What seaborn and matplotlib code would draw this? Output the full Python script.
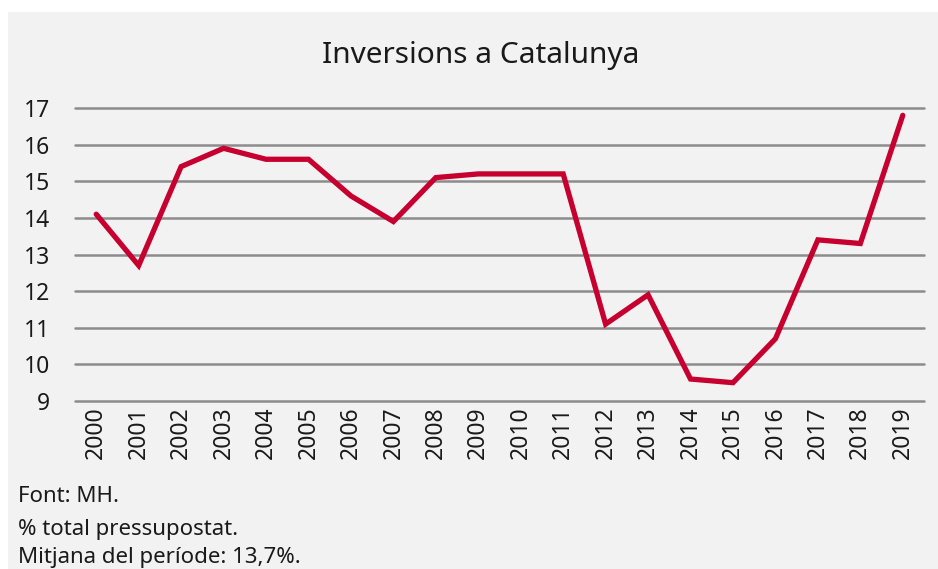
import matplotlib
matplotlib.use("Agg")
import matplotlib.pyplot as plt
import seaborn as sns
import pandas as pd
from matplotlib.patches import Rectangle

years = [str(y) for y in range(2000, 2020)]
inversions = [14.1, 12.7, 15.4, 15.9, 15.6, 15.6, 14.6, 13.9, 15.1, 15.2,
              15.2, 15.2, 11.1, 11.9, 9.6, 9.5, 10.7, 13.4, 13.3, 16.8]
y_ticks = [9, 10, 11, 12, 13, 14, 15, 16, 17]
notes = ["Font: MH.", "% total pressupostat.", "Mitjana del període: 13,7%."]

df = pd.DataFrame({"any": years, "valor": inversions})

sns.set_theme(style="white")
plt.rcParams["font.family"] = ["Noto Sans", "DejaVu Sans"]

fig = plt.figure(figsize=(9.38, 5.69), dpi=100, facecolor="white")
# gray panel behind everything
fig.patches.append(Rectangle((8 / 938, 0), 1, 1 - 12 / 569, transform=fig.transFigure,
                             facecolor="#f2f2f2", edgecolor="none", zorder=-10))

ax = fig.add_axes([75 / 938, 1 - 401 / 569, (924 - 75) / 938, (401 - 108) / 569])
ax.set_facecolor("none")

sns.lineplot(data=df, x="any", y="valor", color="#c6002f", linewidth=3.8,
             ax=ax, sort=False, clip_on=False, solid_joinstyle="miter")

ax.set_ylim(9, 17)
ax.set_xlim(-0.5, len(years) - 0.5)
ax.set_yticks(y_ticks)
ax.yaxis.grid(True, color="#8c8c8c", linewidth=1.8)
for gl in ax.get_ygridlines():
    gl.set_clip_on(False)
ax.set_axisbelow(True)
for s in ax.spines.values():
    s.set_visible(False)
ax.tick_params(axis="y", length=0, pad=18, labelsize=16.5, labelcolor="#1a1a1a")
ax.tick_params(axis="x", length=0, pad=4, labelsize=16.5, labelcolor="#1a1a1a",
               labelrotation=90)
ax.set_xlabel("")
ax.set_ylabel("")

fig.text(481 / 938, 1 - 55 / 569, "Inversions a Catalunya", ha="center", va="center",
         fontsize=21.5, color="#1a1a1a")

for note, yp in zip(notes, [497, 530, 557]):
    fig.text(18 / 938, 1 - yp / 569, note, ha="left", va="center", fontsize=16,
             color="#1a1a1a")

fig.savefig("out.png", dpi=100, facecolor="white")
